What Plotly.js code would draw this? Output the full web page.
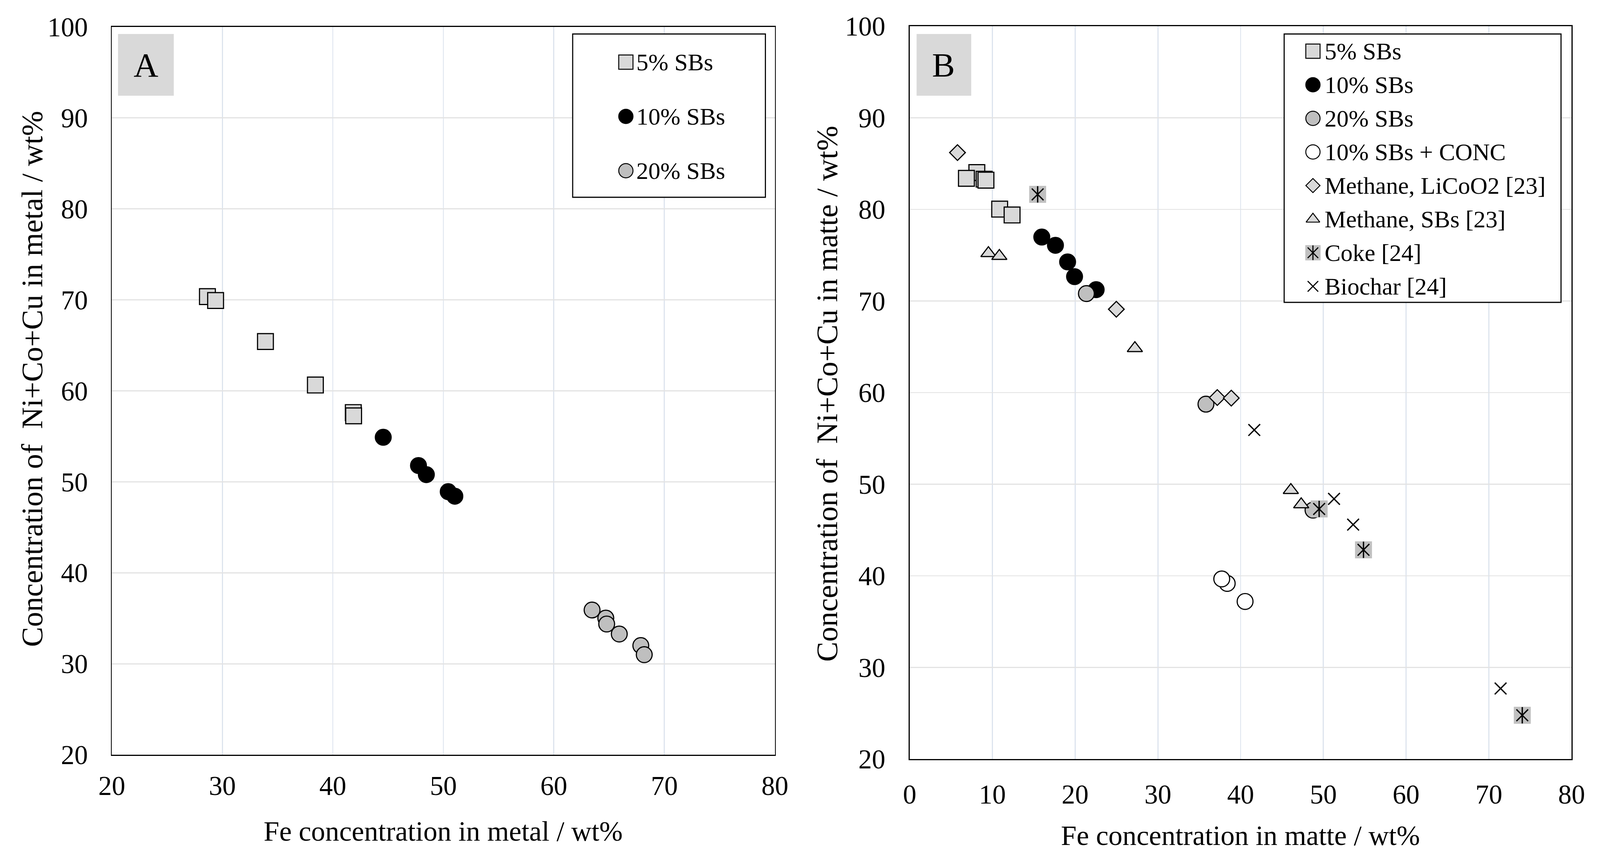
<!DOCTYPE html>
<html><head><meta charset="utf-8">
<script src="https://cdn.plot.ly/plotly-3.0.1.min.js"></script>
<style>html,body{margin:0;padding:0;background:#fff;overflow:hidden;}#chart{margin:0;padding:0;}</style>
</head><body><div id="chart"></div>
<script>
// ---------------- DATA ----------------
// Panel A: Fe in metal (x) vs Ni+Co+Cu in metal (y)
const A_sb5_x  = [28.65, 29.39, 33.90, 38.42, 41.85, 41.88];
const A_sb5_y  = [70.36, 69.93, 65.42, 60.64, 57.61, 57.25];
const A_sb10_x = [44.56, 47.75, 48.46, 50.44, 51.04];
const A_sb10_y = [54.90, 51.79, 50.79, 48.92, 48.42];
const A_sb20_x = [63.46, 64.70, 64.78, 65.92, 67.87, 68.18];
const A_sb20_y = [35.91, 35.02, 34.37, 33.27, 32.00, 31.00];

// Panel B: Fe in matte (x) vs Ni+Co+Cu in matte (y)
const B_sb5_x  = [8.12, 6.86, 9.00, 9.22, 10.88, 12.38];
const B_sb5_y  = [84.02, 83.39, 83.30, 83.19, 80.03, 79.39];
const B_sb10_x = [15.97, 17.62, 19.09, 19.93, 22.54];
const B_sb10_y = [76.98, 76.08, 74.27, 72.66, 71.24];
const B_sb20_x = [21.36, 35.81, 48.75];
const B_sb20_y = [70.81, 58.74, 47.17];
const B_conc_x = [38.38, 37.72, 40.54];
const B_conc_y = [39.17, 39.66, 37.20];
const B_licoo2_x = [5.78, 24.98, 37.18, 38.87];
const B_licoo2_y = [86.20, 69.10, 59.46, 59.40];
const B_methsb_x = [9.52, 10.84, 27.22, 46.07, 47.32];
const B_methsb_y = [75.21, 74.90, 64.84, 49.35, 47.79];
const B_coke_x = [15.47, 49.49, 54.85, 74.04];
const B_coke_y = [81.64, 47.30, 42.84, 24.78];
const B_bio_x  = [41.65, 51.29, 53.60, 71.42];
const B_bio_y  = [55.92, 48.40, 45.59, 27.70];

// Tick values / labels
const A_xticks = [20, 30, 40, 50, 60, 70, 80];
const B_xticks = [0, 10, 20, 30, 40, 50, 60, 70, 80];
const Y_ticks  = [20, 30, 40, 50, 60, 70, 80, 90, 100];

// Texts
const A_xtitle = 'Fe concentration in metal / wt%';
const B_xtitle = 'Fe concentration in matte / wt%';
const A_ytitle = 'Concentration of \u00a0Ni+Co+Cu in metal / wt%';
const B_ytitle = 'Concentration of \u00a0Ni+Co+Cu in matte / wt%';
const A_legend = ['5% SBs', '10% SBs', '20% SBs'];
const B_legend = ['5% SBs', '10% SBs', '20% SBs', '10% SBs + CONC', 'Methane, LiCoO2 [23]', 'Methane, SBs [23]', 'Coke [24]', 'Biochar [24]'];

// ---------------- STYLE / LAYOUT ----------------
// Design coordinates are 4392 x 2204; the page fills whatever viewport it gets.
const W = 4392, H = 2204;
const VW = window.innerWidth || W, VH = window.innerHeight || H;
const kx = VW / W, ky = VH / H;
const kf = kx;                    // horizontal text / line scale
const km = Math.sqrt(kx * ky);    // marker scale
const FONT = '"Liberation Serif","Times New Roman",Times,serif';
const BLACK = '#000000';
const boxA = {l: 307, r: 2127, t: 69, b: 1932};
const boxB = {l: 2497, r: 4314, t: 67, b: 1943};
function xd(b){ return [b.l / W, b.r / W]; }
function yd(b){ return [1 - b.b / H, 1 - b.t / H]; }

const LW = 3;
const S = {
  sb5:   [{symbol:'square', size:42, color:'#d9d9d9', line:{color:BLACK, width:LW}}],
  sb10:  [{symbol:'circle', size:42, color:BLACK, line:{color:BLACK, width:LW}}],
  sb20:  [{symbol:'circle', size:42, color:'#bfbfbf', line:{color:BLACK, width:LW}}],
  conc:  [{symbol:'circle', size:42, color:'#ffffff', line:{color:BLACK, width:LW}}],
  licoo2:[{symbol:'diamond', size:32, color:'#d9d9d9', line:{color:BLACK, width:LW}}],
  methsb:[{symbol:'triangle-up', size:35, color:'#d9d9d9', line:{color:BLACK, width:LW}}],
  coke:  [{symbol:'square', size:45, color:'#c0c0c0', line:{color:'#c0c0c0', width:0}},
          {symbol:'x-thin-open', size:31, color:BLACK, line:{color:BLACK, width:3.5}},
          {symbol:'line-ns-open', size:31, color:BLACK, line:{color:BLACK, width:3.5}}],
  bio:   [{symbol:'x-thin-open', size:31, color:BLACK, line:{color:BLACK, width:3.5}}]
};
function scaled(style, f, lwf){
  return style.map(m => Object.assign({}, m, {size: m.size * f * km,
    line: Object.assign({}, m.line, {width: m.line.width ? m.line.width * lwf * km : 0})}));
}

const traces = [];
function addSeries(x, y, xa, ya, name, style){
  scaled(style, 1, 1).forEach(m => traces.push({
    type:'scatter', mode:'markers', x:x, y:y, xaxis:xa, yaxis:ya,
    name:name, marker:m, showlegend:false, hoverinfo:'skip', cliponaxis:false
  }));
}
// Panel A
addSeries(A_sb5_x, A_sb5_y, 'x', 'y', '5% SBs', S.sb5);
addSeries(A_sb10_x, A_sb10_y, 'x', 'y', '10% SBs', S.sb10);
addSeries(A_sb20_x, A_sb20_y, 'x', 'y', '20% SBs', S.sb20);
// Panel B
addSeries(B_sb5_x, B_sb5_y, 'x2', 'y2', '5% SBs', S.sb5);
addSeries(B_sb10_x, B_sb10_y, 'x2', 'y2', '10% SBs', S.sb10);
addSeries(B_sb20_x, B_sb20_y, 'x2', 'y2', '20% SBs', S.sb20);
addSeries(B_conc_x, B_conc_y, 'x2', 'y2', '10% SBs + CONC', S.conc);
addSeries(B_licoo2_x, B_licoo2_y, 'x2', 'y2', 'Methane, LiCoO2 [23]', S.licoo2);
addSeries(B_methsb_x, B_methsb_y, 'x2', 'y2', 'Methane, SBs [23]', S.methsb);
addSeries(B_coke_x, B_coke_y, 'x2', 'y2', 'Coke [24]', S.coke);
addSeries(B_bio_x, B_bio_y, 'x2', 'y2', 'Biochar [24]', S.bio);

// ---------------- Custom legends (on a design-space overlay axis) ----------------
const shapes = [];
const annotations = [];
function legendBlock(labels, styles, box, keyX, textX, row0, step){
  shapes.push({type:'rect', xref:'x3', yref:'y3', layer:'below', x0:box.l, x1:box.r, y0:box.t, y1:box.b,
               fillcolor:'#ffffff', line:{color:BLACK, width:3 * kf}});
  labels.forEach((lab, i) => {
    const ry = row0 + i * step;
    scaled(styles[i], 0.9, 0.85).forEach(m => traces.push({
      type:'scatter', mode:'markers', x:[keyX], y:[ry], xaxis:'x3', yaxis:'y3',
      marker:m, showlegend:false, hoverinfo:'skip', cliponaxis:false
    }));
    annotations.push({xref:'x3', yref:'y3', x:textX, y:ry, text:lab, showarrow:false,
      xanchor:'left', yanchor:'middle', font:{family:FONT, size:66 * kf, color:BLACK}});
  });
}
legendBlock(A_legend, [S.sb5, S.sb10, S.sb20], {l:1572, r:2101, t:87, b:505}, 1718, 1745, 159, 139);
legendBlock(B_legend, [S.sb5, S.sb10, S.sb20, S.conc, S.licoo2, S.methsb, S.coke, S.bio],
            {l:3525, r:4285, t:87, b:774}, 3604, 3634, 131, 86);

// Panel letter boxes
shapes.push({type:'rect', xref:'x3', yref:'y3', layer:'below', x0:324, x1:477, y0:87, y1:245, fillcolor:'#d9d9d9', line:{width:0}});
shapes.push({type:'rect', xref:'x3', yref:'y3', layer:'below', x0:2516, x1:2666, y0:87, y1:245, fillcolor:'#d9d9d9', line:{width:0}});
annotations.push({xref:'x3', yref:'y3', x:400, y:166, text:'A', showarrow:false, xanchor:'center', yanchor:'middle', font:{family:FONT, size:94 * kf, color:BLACK}});
annotations.push({xref:'x3', yref:'y3', x:2590, y:166, text:'B', showarrow:false, xanchor:'center', yanchor:'middle', font:{family:FONT, size:94 * kf, color:BLACK}});

// Axis titles (rotated titles use the vertical scale so their length matches)
annotations.push({xref:'x3', yref:'y3', x:1217, y:2128, text:A_xtitle, showarrow:false, xanchor:'center', yanchor:'middle', font:{family:FONT, size:77 * kf, color:BLACK}});
annotations.push({xref:'x3', yref:'y3', x:3405, y:2139, text:B_xtitle, showarrow:false, xanchor:'center', yanchor:'middle', font:{family:FONT, size:77 * kf, color:BLACK}});
annotations.push({xref:'x3', yref:'y3', x:88, y:970, text:A_ytitle, textangle:-90, showarrow:false, xanchor:'center', yanchor:'middle', font:{family:FONT, size:77 * ky, color:BLACK}});
annotations.push({xref:'x3', yref:'y3', x:2270, y:1008, text:B_ytitle, textangle:-90, showarrow:false, xanchor:'center', yanchor:'middle', font:{family:FONT, size:77 * ky, color:BLACK}});

// ---------------- AXES ----------------
const tickFont = {family:FONT, size:74 * kf, color:BLACK};
function axis(domain, range, ticks, anchor, ticklen, gridcolor){
  return {domain:domain, range:range, tickvals:ticks, ticktext:ticks.map(String), anchor:anchor,
    showgrid:true, gridcolor:gridcolor, gridwidth:3 * kf, zeroline:false,
    showline:true, linecolor:BLACK, linewidth:3 * kf, mirror:true,
    ticks:'outside', ticklen:ticklen, tickcolor:'rgba(0,0,0,0)', tickwidth:1,
    tickfont:tickFont, fixedrange:true, automargin:false};
}
const layout = {
  width:VW, height:VH, margin:{l:0, r:0, t:0, b:0, pad:0},
  paper_bgcolor:'#ffffff', plot_bgcolor:'rgba(0,0,0,0)', showlegend:false,
  font:{family:FONT, color:BLACK},
  xaxis:  axis(xd(boxA), [20, 80], A_xticks, 'y', 17 * ky, '#dde4ee'),
  yaxis:  axis(yd(boxA), [20, 100], Y_ticks, 'x', 48 * kx, '#e3e3e3'),
  xaxis2: axis(xd(boxB), [0, 80], B_xticks, 'y2', 28 * ky, '#dde4ee'),
  yaxis2: axis(yd(boxB), [20, 100], Y_ticks, 'x2', 49 * kx, '#e3e3e3'),
  xaxis3: {domain:[0,1], range:[0, W], anchor:'y3', visible:false, fixedrange:true},
  yaxis3: {domain:[0,1], range:[H, 0], anchor:'x3', visible:false, fixedrange:true},
  shapes:shapes, annotations:annotations
};
Plotly.newPlot('chart', traces, layout, {displayModeBar:false, staticPlot:true});
</script></body></html>
